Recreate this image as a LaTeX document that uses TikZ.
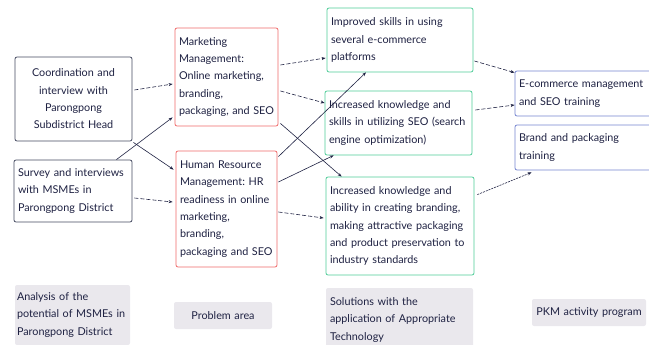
\documentclass[tikz,border=0pt]{standalone}
\usepackage{fontspec}
\setmainfont{Lato}
\usetikzlibrary{arrows.meta}
\frenchspacing

\definecolor{inkblue}{HTML}{1E2142}
\definecolor{probred}{HTML}{F06A6A}
\definecolor{solgreen}{HTML}{4ECC98}
\definecolor{progblue}{HTML}{7585D0}
\definecolor{srcgray}{HTML}{454A60}
\definecolor{capgray}{HTML}{EAE8ED}

\tikzset{
    box/.style={
        draw,line width=0.8pt,rounded corners=2pt,fill=white,
        inner xsep=4pt,inner ysep=0pt,
        align=left,text=inkblue,
        font=\fontsize{10.8}{17.3}\selectfont
    },
    source box/.style={box,draw=srcgray},
    problem box/.style={box,draw=probred},
    solution box/.style={box,draw=solgreen},
    program box/.style={box,draw=progblue},
    caption box/.style={box,draw=none,fill=capgray},
    link/.style={draw=inkblue,line width=0.6pt,-{Stealth[length=4pt,width=3pt]}},
    dashed link/.style={link,dash pattern=on 4pt off 2pt}
}

\begin{document}
\begin{tikzpicture}[x=1pt,y=-1pt]
        \useasboundingbox (0,0) rectangle (649,345);
        \clip (0,0) rectangle (649,345);
        % sources
        \node[source box,align=center,text width=109pt,minimum height=84pt] (coord) at (73.5,99)
            {Coordination and\\interview with\\Parongpong\\Subdistrict Head};
        \node[source box,text width=110pt,minimum height=62pt] (survey) at (73,191)
            {Survey and interviews\\with MSMEs in\\Parongpong District};
        % problems
        \node[problem box,text width=95pt,minimum height=98pt] (mkt) at (226.5,77)
            {Marketing\\Management:\\Online marketing,\\branding,\\packaging, and SEO};
        \node[problem box,text width=93pt,minimum height=116pt] (hr) at (226.5,209)
            {Human Resource\\Management: HR\\readiness in online\\marketing,\\branding,\\packaging and SEO};
        % solutions
        \node[solution box,text width=138pt,minimum height=64pt] (imp) at (400,40)
            {Improved skills in using\\several e-commerce\\platforms};
        \node[solution box,text width=139pt,minimum height=64pt] (seo) at (398.5,123)
            {Increased knowledge and\\skills in utilizing SEO (search\\engine optimization)};
        \node[solution box,text width=140pt,minimum height=98pt] (brandk) at (400,226)
            {Increased knowledge and\\ability in creating branding,\\making attractive packaging\\and product preservation to\\industry standards};
        % programs
        \node[program box,text width=137pt,minimum height=45pt] (ecom) at (587.5,93.5)
            {E-commerce management\\and SEO training};
        \node[program box,text width=137pt,minimum height=45pt] (bptrain) at (587.5,147.5)
            {Brand and packaging\\training};
        % column captions
        \node[caption box,inner xsep=2pt,text width=111pt,minimum height=60pt] (analysis) at (72.5,315)
            {Analysis of the\\potential of MSMEs in\\Parongpong District};
        \node[caption box,align=center,text width=90pt,minimum height=27pt] (problems) at (223,315.5)
            {Problem area};
        \node[caption box,text width=139pt,minimum height=64pt] (solutions) at (399.5,320)
            {Solutions with the\\application of Appropriate\\Technology};
        \node[caption box,align=center,text width=106pt,minimum height=27pt] (pkm) at (589,312.5)
            {PKM activity program};
        % links
        \draw[dashed link] ([shift={(2,-9)}]coord.east) -- ([shift={(-2,7)}]mkt.west);
        \draw[link] ([shift={(1,1)}]coord.south east) -- ([shift={(-2,19)}]hr.north west);
        \draw[link] ([xshift=-16pt]survey.north east) -- ([shift={(-2,-9)}]mkt.south west);
        \draw[dashed link] ([shift={(2,7)}]survey.east) -- ([shift={(-3,-7)}]hr.west);
        \draw[dashed link] ([shift={(2,-12)}]mkt.east) -- ([shift={(-1,18)}]imp.west);
        \draw[dashed link] ([shift={(2,14)}]mkt.east) -- ([shift={(0,-20)}]seo.west);
        \draw[link] ([shift={(2,-3)}]mkt.south east) -- ([shift={(16,0)}]brandk.north west);
        \draw[link] ([shift={(1,6)}]hr.north east) -- ([xshift=-34pt]imp.south);
        \draw[link] ([shift={(1,-27)}]hr.east) -- ([xshift=9pt]seo.south west);
        \draw[dashed link] ([shift={(1,3)}]hr.east) -- ([shift={(-2,-8)}]brandk.west);
        \draw[dashed link] ([shift={(1,21)}]imp.east) -- ([shift={(0,2)}]ecom.north west);
        \draw[dashed link] ([shift={(3,-13)}]seo.east) -- ([shift={(0,11.5)}]ecom.west);
        \draw[link,dash pattern=on 2pt off 1pt] ([shift={(3,18)}]brandk.north east) -- ([shift={(17,2)}]bptrain.south west);
    \end{tikzpicture}
\end{document}
